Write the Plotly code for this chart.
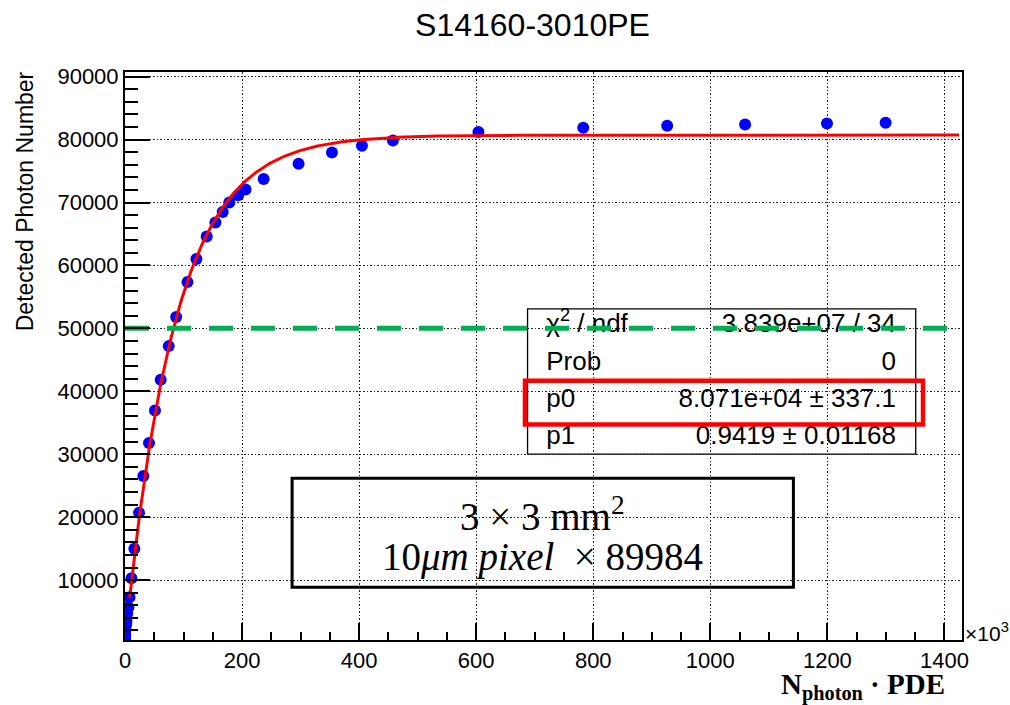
import numpy as np
import plotly.graph_objects as go

# ---------------- data ----------------
# x in units of 10^3 (N_photon * PDE), y = detected photon number
n_pde_k = [0.2, 0.5, 1.0, 1.8, 2.6, 3.8, 5.8, 7.7, 11.0, 16.0, 24.0, 31.4, 41.0,
           51.2, 61.0, 74.7, 87.4, 106.7, 122.0, 139.6, 154.5, 166.9, 178.3,
           193.3, 206.0, 236.9, 296.6, 353.6, 404.8, 457.7, 603.8, 782.9,
           926.3, 1059.4, 1199.3, 1299.5]
detected = [600, 1300, 2100, 2900, 3500, 4700, 5700, 7270, 10290, 14980, 20720,
            26550, 31800, 36940, 41820, 47180, 51790, 57350, 61010, 64600,
            66830, 68480, 70010, 71150, 72080, 73730, 76160, 77960, 79020,
            79870, 81220, 81890, 82200, 82410, 82570, 82680]

# fit parameters shown in the stats box
p0 = 8.071e4
p1 = 0.9419
fit_range_k = [8.0, 1425.0]
half_level = 50000

stat_labels = ["\u03c7<sup>2</sup> / ndf", "Prob", "p0", "p1"]
stat_values = ["3.839e+07 / 34", "0", "8.071e+04 \u00b1 337.1", "0.9419 \u00b1 0.01168"]

title_text = "S14160-3010PE"
ytitle = "Detected Photon Number"
xtitle = "<b>N<sub>photon</sub> \u00b7 PDE</b>"
box_line1 = "3 \u00d7 3 mm<sup>2</sup>"
box_line2 = "10<i>\u03bcm pixel</i>  \u00d7 89984"

# ---------------- layout geometry (pixels) ----------------
W, H = 1010, 705
L, R, T, B = 124.5, 962.0, 72.3, 640.0
XR = [0, 1430]
YR = [480, 90740]


def px_x(px):
    return XR[0] + (px - L) / (R - L) * (XR[1] - XR[0])


def px_y(py):
    return YR[0] + (B - py) / (B - T) * (YR[1] - YR[0])


def pap_x(px):
    return (px - L) / (R - L)


def pap_y(py):
    return (B - py) / (B - T)


SANS = "Liberation Sans, Arial, sans-serif"
SERIF = "Liberation Serif, Times New Roman, serif"

fx = np.linspace(fit_range_k[0], fit_range_k[1], 800)
fy = p0 * (1 - np.exp(-p1 * fx * 1000.0 / p0))

fig = go.Figure()
fig.add_trace(go.Scatter(x=n_pde_k, y=detected, mode="markers",
                         marker=dict(color="#0000FF", size=12, line=dict(width=0)),
                         showlegend=False, hoverinfo="skip"))
fig.add_trace(go.Scatter(x=fx, y=fy, mode="lines",
                         line=dict(color="#FF0000", width=3),
                         showlegend=False, hoverinfo="skip"))

# stats box text
row_py = [326, 364, 401, 438]
fig.add_trace(go.Scatter(x=[px_x(546)] * 4, y=[px_y(p) for p in row_py],
                         mode="text", text=stat_labels, textposition="middle right",
                         textfont=dict(family=SANS, size=26, color="black"),
                         showlegend=False, hoverinfo="skip"))
fig.add_trace(go.Scatter(x=[px_x(896)] * 4, y=[px_y(p) for p in row_py],
                         mode="text", text=stat_values, textposition="middle left",
                         textfont=dict(family=SANS, size=26, color="black"),
                         showlegend=False, hoverinfo="skip"))

# green dashed level line
fig.add_trace(go.Scatter(x=[0, 1410], y=[half_level, half_level], mode="lines",
                         line=dict(color="#00B050", width=5, dash="24px,18px"),
                         showlegend=False, hoverinfo="skip"))

shapes = [
    # stats box
    dict(type="rect", xref="paper", yref="paper", layer="between",
         x0=pap_x(527.3), x1=pap_x(915.7), y0=pap_y(454.3), y1=pap_y(309),
         fillcolor="white", line=dict(color="black", width=1.3)),
    # text box
    dict(type="rect", xref="paper", yref="paper", layer="between",
         x0=pap_x(291.7), x1=pap_x(793.3), y0=pap_y(587.3), y1=pap_y(478.3),
         fillcolor="white", line=dict(color="black", width=3)),
    # red highlight
    dict(type="rect", xref="paper", yref="paper", layer="above",
         x0=pap_x(524.7), x1=pap_x(923), y0=pap_y(424.7), y1=pap_y(381),
         fillcolor="rgba(0,0,0,0)", line=dict(color="#FF0000", width=4.5)),
]

annotations = [
    dict(text=box_line1, xref="paper", yref="paper", x=pap_x(542.5), y=pap_y(514),
         xanchor="center", yanchor="middle", showarrow=False,
         font=dict(family=SERIF, size=39, color="black")),
    dict(text=box_line2, xref="paper", yref="paper", x=pap_x(542.5), y=pap_y(557),
         xanchor="center", yanchor="middle", showarrow=False,
         font=dict(family=SERIF, size=39, color="black")),
    dict(text=ytitle, xref="paper", yref="paper", x=pap_x(24), y=pap_y(70),
         xanchor="center", yanchor="top", textangle=-90, showarrow=False,
         font=dict(family=SANS, size=23, color="black")),
    dict(text=xtitle, xref="paper", yref="paper", x=pap_x(947), y=pap_y(686),
         xanchor="right", yanchor="middle", showarrow=False,
         font=dict(family=SERIF, size=29, color="black")),
    dict(text="\u00d710<sup>3</sup>", xref="paper", yref="paper", x=pap_x(963), y=pap_y(632),
         xanchor="left", yanchor="middle", showarrow=False,
         font=dict(family=SANS, size=21, color="black")),
]

fig.update_layout(
    width=W, height=H,
    margin=dict(l=L, r=W - R, t=T, b=H - B, pad=0, autoexpand=False),
    paper_bgcolor="white", plot_bgcolor="white",
    title=dict(text=title_text, x=532.5 / W, xref="container", xanchor="center",
               y=1 - 25 / H, yref="container", yanchor="middle",
               font=dict(family=SANS, size=32, color="black")),
    shapes=shapes, annotations=annotations,
    showlegend=False,
)

fig.update_xaxes(range=XR, dtick=200, tick0=0, ticks="inside", ticklen=17, tickwidth=2,
                 tickcolor="black", showline=True, linecolor="black", linewidth=2,
                 mirror=True, showgrid=True, gridcolor="#222", gridwidth=1,
                 griddash="1.5px,2px", zeroline=False, automargin=False,
                 tickfont=dict(family=SANS, size=22, color="black"),
                 minor=dict(dtick=50, ticks="inside", ticklen=8, tickwidth=1.5,
                            tickcolor="black", showgrid=False))
fig.update_yaxes(range=YR, dtick=10000, tick0=0, ticks="inside", ticklen=25, tickwidth=2,
                 tickcolor="black", showline=True, linecolor="black", linewidth=2,
                 mirror=True, showgrid=True, gridcolor="#222", gridwidth=1,
                 griddash="1.5px,2px", zeroline=False, tickformat="d", automargin=False,
                 tickfont=dict(family=SANS, size=22, color="black"),
                 minor=dict(dtick=2000, ticks="inside", ticklen=13, tickwidth=1.5,
                            tickcolor="black", showgrid=False))

fig.write_html("out.html", config={"displayModeBar": False},
               post_script="document.body.style.margin='0';document.body.style.overflow='hidden';")
